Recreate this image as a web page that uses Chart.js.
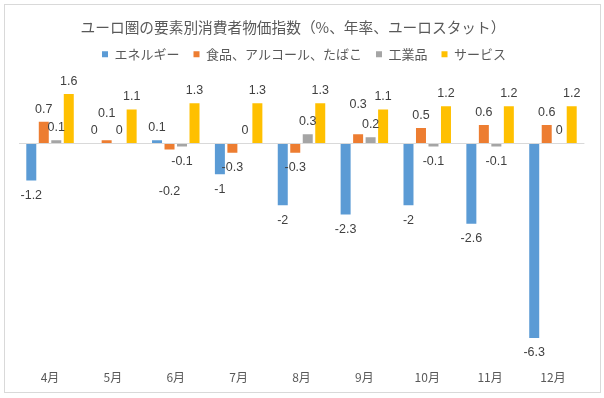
<!DOCTYPE html>
<html>
<head>
<meta charset="utf-8">
<script src="https://cdn.jsdelivr.net/npm/chart.js@4.4.1/dist/chart.umd.min.js"></script>
<style>
html,body{margin:0;padding:0;background:#fff;}
#wrap{position:relative;width:604px;height:398px;}
</style>
</head>
<body>
<div id="wrap"><canvas id="c" width="604" height="398"></canvas></div>
<script>
const categories = ['4月','5月','6月','7月','8月','9月','10月','11月','12月'];
const energy   = [-1.2, 0, 0.1, -1, -2, -2.3, -2, -2.6, -6.3];
const food     = [0.7, 0.1, -0.2, -0.3, -0.3, 0.3, 0.5, 0.6, 0.6];
const industry = [0.1, 0, -0.1, 0, 0.3, 0.2, -0.1, -0.1, 0];
const services = [1.6, 1.1, 1.3, 1.3, 1.3, 1.1, 1.2, 1.2, 1.2];
const seriesNames = ['エネルギー','食品、アルコール、たばこ','工業品','サービス'];
const titleText = 'ユーロ圏の要素別消費者物価指数（%、年率、ユーロスタット）';
// extra distance (px) that a few data labels were moved away from their bar: [series, category, px]
const labelNudges = [[1, 1, 14.5], [1, 2, 27], [1, 5, 17.5]];

const JP = '"Noto Sans CJK JP", "Noto Sans", sans-serif';

const framePlugin = {
  id: 'frame',
  afterInit(chart) {
    const lg = chart.legend;
    const origFit = lg.fit;
    lg.fit = function () { origFit.call(this); this.height += 11; };
    const tb = chart.titleBlock;
    const origDraw = tb.draw;
    tb.draw = function () {
      const c = this.ctx; c.save(); c.translate(-8.5, 0); origDraw.call(this); c.restore();
    };
    const origLgDraw = lg.draw;
    lg.draw = function () {
      const c = this.ctx; c.save(); c.translate(2.5, 0); origLgDraw.call(this); c.restore();
    };
  },
  beforeDraw(chart) {
    const c = chart.ctx;
    c.save();
    c.fillStyle = '#fff';
    c.fillRect(0, 0, chart.width, chart.height);
    c.strokeStyle = '#d9d9d9';
    c.lineWidth = 1;
    c.strokeRect(4.5, 4.5, 596, 388);
    c.restore();
  }
};

const labelPlugin = {
  id: 'valueLabels',
  afterDatasetsDraw(chart) {
    const c = chart.ctx;
    c.save();
    c.font = '12.5px "Liberation Sans", Arial, sans-serif';
    c.fillStyle = '#404040';
    c.textAlign = 'center';
    c.textBaseline = 'middle';
    chart.data.datasets.forEach((ds, di) => {
      const meta = chart.getDatasetMeta(di);
      meta.data.forEach((el, i) => {
        const v = ds.data[i];
        let extra = 0;
        labelNudges.forEach(n => { if (n[0] === di && n[1] === i) extra = n[2]; });
        const y = v >= 0 ? el.y - 12.5 - extra : el.y + 15 + extra;
        c.fillText(String(v), el.x, y);
      });
    });
    c.restore();
  }
};

new Chart(document.getElementById('c'), {
  type: 'bar',
  data: {
    labels: categories,
    datasets: [
      {label: seriesNames[0], data: energy,   backgroundColor: '#5B9BD5'},
      {label: seriesNames[1], data: food,     backgroundColor: '#ED7D31'},
      {label: seriesNames[2], data: industry, backgroundColor: '#A5A5A5'},
      {label: seriesNames[3], data: services, backgroundColor: '#FFC000'}
    ]
  },
  options: {
    responsive: false,
    animation: false,
    devicePixelRatio: 1,
    layout: {padding: {left: 18.6, right: 19.6, top: 11, bottom: 2}},
    datasets: {bar: {categoryPercentage: 0.795, barPercentage: 0.8}},
    plugins: {
      title: {
        display: true,
        text: titleText,
        color: '#595959',
        font: {family: JP, size: 14.7, weight: 'normal'},
        padding: {top: 8, bottom: -3}
      },
      legend: {
        display: true,
        position: 'top',
        labels: {
          color: '#595959',
          font: {family: JP, size: 13},
          boxWidth: 6,
          boxHeight: 6,
          padding: 14
        }
      },
      tooltip: {enabled: false}
    },
    scales: {
      x: {
        grid: {display: false, drawTicks: false},
        border: {display: false},
        ticks: {color: '#595959', font: {family: JP, size: 12}, padding: 11}
      },
      y: {
        min: -7, max: 2,
        ticks: {display: false, stepSize: 1},
        border: {display: false},
        grid: {
          drawTicks: false,
          color: (ctx) => (ctx.tick && ctx.tick.value === 0) ? '#d9d9d9' : 'rgba(0,0,0,0)'
        }
      }
    }
  },
  plugins: [framePlugin, labelPlugin]
});
</script>
</body>
</html>
